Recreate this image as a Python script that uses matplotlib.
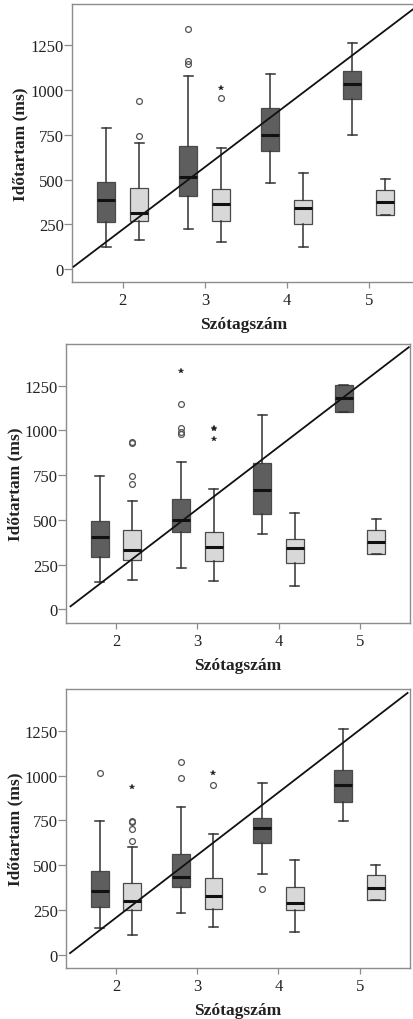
import matplotlib
matplotlib.use("Agg")
import matplotlib.pyplot as plt
import numpy as np

plt.rcParams['font.family'] = ['Liberation Serif', 'DejaVu Serif']

categories = [2, 3, 4, 5]
tick_values = [0, 250, 500, 750, 1000, 1250]

# ---- Panel 1 ----
p1_dark_low = [125, 226, 483, 750]
p1_dark_q1 = [265, 410, 659, 952]
p1_dark_med = [386, 513, 748, 1032]
p1_dark_q3 = [489, 690, 898, 1108]
p1_dark_high = [791, 1079, 1090, 1263]
p1_light_low = [160, 151, 125, 302]
p1_light_q1 = [269, 267, 254, 304]
p1_light_med = [315, 362, 340, 373]
p1_light_q3 = [450, 446, 383, 444]
p1_light_high = [703, 674, 536, 502]
p1_out_cat = [3, 3, 3, 2, 2, 3, 3]
p1_out_group = ['dark', 'dark', 'dark', 'light', 'light', 'light', 'light']
p1_out_val = [1343, 1161, 1144, 939, 745, 1013, 954]
p1_out_kind = ['o', 'o', 'o', 'o', 'o', '*', 'o']
p1_ref_x = [1.40, 5.56]
p1_ref_y = [13, 1460]

# ---- Panel 2 ----
p2_dark_low = [153, 229, 419, 1105]
p2_dark_q1 = [290, 430, 532, 1105]
p2_dark_med = [407, 500, 668, 1179]
p2_dark_q3 = [491, 616, 817, 1254]
p2_dark_high = [746, 824, 1084, 1254]
p2_light_low = [166, 158, 130, 307]
p2_light_q1 = [275, 268, 257, 307]
p2_light_med = [329, 348, 342, 378]
p2_light_q3 = [443, 432, 391, 446]
p2_light_high = [603, 671, 536, 504]
p2_out_cat = [3, 3, 3, 3, 3, 2, 2, 2, 2, 3, 3, 3]
p2_out_group = ['dark'] * 5 + ['light'] * 7
p2_out_val = [1334, 1148, 1012, 990, 977, 934, 930, 744, 703, 1012, 1008, 950]
p2_out_kind = ['*', 'o', 'o', 'o', 'o', 'o', 'o', 'o', 'o', '*', '*', '*']
p2_ref_x = [1.44, 5.60]
p2_ref_y = [17, 1464]

# ---- Panel 3 ----
p3_dark_low = [149, 232, 449, 748]
p3_dark_q1 = [267, 381, 622, 850]
p3_dark_med = [358, 436, 708, 949]
p3_dark_q3 = [466, 563, 765, 1031]
p3_dark_high = [747, 826, 960, 1259]
p3_light_low = [111, 154, 126, 306]
p3_light_q1 = [253, 254, 251, 306]
p3_light_med = [301, 329, 288, 373]
p3_light_q3 = [401, 427, 379, 444]
p3_light_high = [600, 672, 531, 501]
p3_out_cat = [2, 3, 3, 4, 2, 2, 2, 2, 2, 3, 3]
p3_out_group = ['dark'] * 4 + ['light'] * 7
p3_out_val = [1012, 1073, 988, 366, 938, 747, 743, 702, 637, 1012, 949]
p3_out_kind = ['o', 'o', 'o', 'o', '*', 'o', 'o', 'o', 'o', '*', 'o']
p3_ref_x = [1.434, 5.59]
p3_ref_y = [11, 1460]

W, H = 414, 1020
fig = plt.figure(figsize=(W / 100, H / 100), dpi=100)

OFFSET = 0.2
BOXW = 0.22
DARK = '#5e5e5e'
LIGHT = '#d8d8d8'
EDGE = '#4a4a4a'
SPINE = '#8c8c8c'


def px_axes(left, top, right, bottom):
    return fig.add_axes([left / W, 1 - bottom / H, (right - left) / W, (bottom - top) / H])


def make_stats(low, q1, med, q3, high):
    return [dict(whislo=l, q1=a, med=m, q3=b, whishi=h, fliers=[])
            for l, a, m, b, h in zip(low, q1, med, q3, high)]


def draw_panel(ax, dark, light, out_cat, out_group, out_val, out_kind, ref_x, ref_y,
               xlim, ylim, ylabelpad):
    pos = np.array(categories, dtype=float)
    for stats, shift, color in [(dark, -OFFSET, DARK), (light, OFFSET, LIGHT)]:
        ax.bxp(stats, positions=pos + shift, widths=BOXW, patch_artist=True,
               showfliers=False, manage_ticks=False,
               boxprops=dict(facecolor=color, edgecolor=EDGE, linewidth=0.9),
               medianprops=dict(color='#111111', linewidth=2.2, solid_capstyle='butt'),
               whiskerprops=dict(color='#333333', linewidth=1.1),
               capprops=dict(color='#333333', linewidth=1.1),
               zorder=2)
    for c, g, v, k in zip(out_cat, out_group, out_val, out_kind):
        x = c - OFFSET if g == 'dark' else c + OFFSET
        if k == 'o':
            ax.plot([x], [v], marker='o', ms=4.2, mfc='none', mec='#555555', mew=0.9,
                    linestyle='none', zorder=3)
        else:
            ax.plot([x], [v], marker='*', ms=4.3, mfc='#222222', mec='#222222', mew=0.2,
                    linestyle='none', zorder=3)
    ax.plot(ref_x, ref_y, color='#111111', linewidth=1.3, zorder=4)
    ax.set_xlim(*xlim)
    ax.set_ylim(*ylim)
    ax.set_xticks(categories)
    ax.set_xticklabels([str(c) for c in categories])
    ax.set_yticks(tick_values)
    ax.set_yticklabels([str(t) for t in tick_values])
    ax.tick_params(axis='y', direction='out', length=5.5, width=0.9, color=SPINE,
                   labelsize=12, labelcolor='#222222', pad=0.5)
    ax.tick_params(axis='x', direction='out', length=4, width=0.9, color=SPINE,
                   labelsize=12, labelcolor='#222222', pad=3)
    for s in ax.spines.values():
        s.set_color(SPINE)
        s.set_linewidth(1.0)
    ax.set_ylabel('Időtartam (ms)', fontsize=12.5, fontweight='bold', color='#222222',
                  labelpad=ylabelpad)
    ax.set_xlabel('Szótagszám', fontsize=12.5, fontweight='bold', color='#222222', labelpad=6)


ax1 = px_axes(72, 5, 416, 283)
draw_panel(ax1,
           make_stats(p1_dark_low, p1_dark_q1, p1_dark_med, p1_dark_q3, p1_dark_high),
           make_stats(p1_light_low, p1_light_q1, p1_light_med, p1_light_q3, p1_light_high),
           p1_out_cat, p1_out_group, p1_out_val, p1_out_kind, p1_ref_x, p1_ref_y,
           (1.38, 5.575), (-73, 1482), 1.5)

ax2 = px_axes(66, 345, 410, 624)
draw_panel(ax2,
           make_stats(p2_dark_low, p2_dark_q1, p2_dark_med, p2_dark_q3, p2_dark_high),
           make_stats(p2_light_low, p2_light_q1, p2_light_med, p2_light_q3, p2_light_high),
           p2_out_cat, p2_out_group, p2_out_val, p2_out_kind, p2_ref_x, p2_ref_y,
           (1.385, 5.615), (-76, 1482), 0.5)

ax3 = px_axes(66, 690, 410, 969)
draw_panel(ax3,
           make_stats(p3_dark_low, p3_dark_q1, p3_dark_med, p3_dark_q3, p3_dark_high),
           make_stats(p3_light_low, p3_light_q1, p3_light_med, p3_light_q3, p3_light_high),
           p3_out_cat, p3_out_group, p3_out_val, p3_out_kind, p3_ref_x, p3_ref_y,
           (1.384, 5.62), (-72, 1482), 0.5)

fig.savefig('out.png', dpi=100, facecolor='white')
